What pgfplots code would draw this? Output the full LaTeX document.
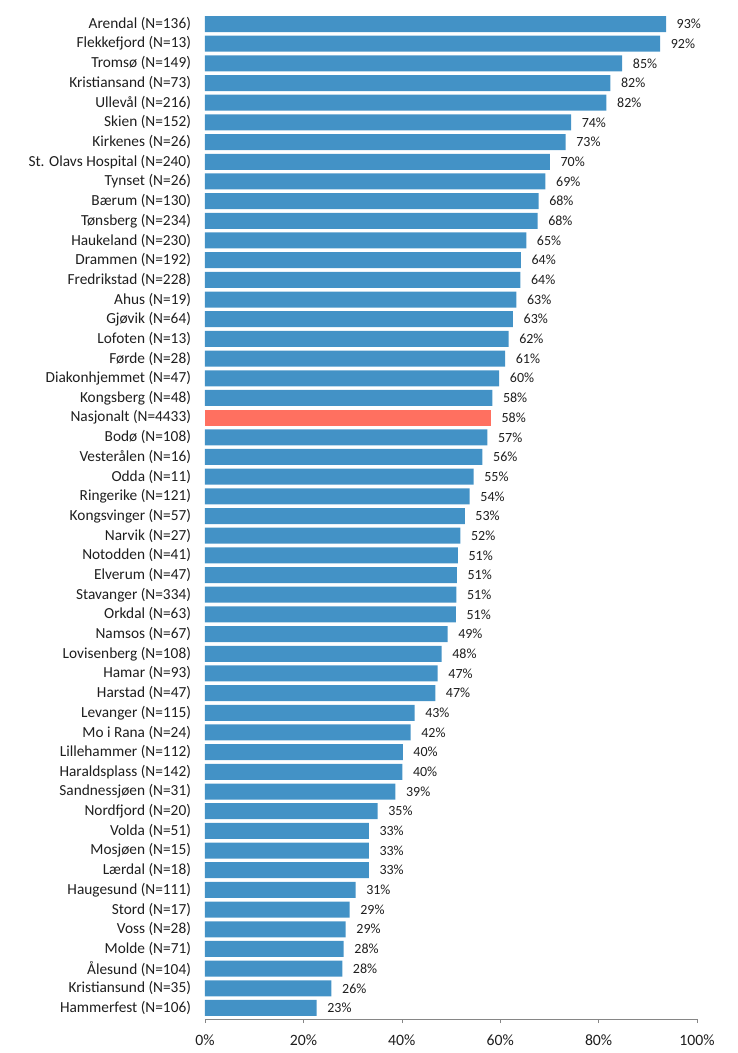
\documentclass[border=0pt]{standalone}
\usepackage{fontspec}
\setmainfont{Carlito}
\usepackage{pgfplots}
\usepackage{pgfplotstable}
\pgfplotsset{compat=1.18}
\definecolor{barblue}{RGB}{67,146,198}
\definecolor{barred}{RGB}{255,112,96}
\definecolor{axgray}{RGB}{134,134,134}
\definecolor{txt}{RGB}{30,30,30}
\pgfplotstableread[col sep=comma]{
idx,val,lab,name
0,93.7,93,Arendal (N=136)
1,92.5,92,Flekkefjord (N=13)
2,84.8,85,Tromsø (N=149)
3,82.4,82,Kristiansand (N=73)
4,81.6,82,Ullevål (N=216)
5,74.4,74,Skien (N=152)
6,73.3,73,Kirkenes (N=26)
7,70.1,70,St. Olavs Hospital (N=240)
8,69.2,69,Tynset (N=26)
9,67.8,68,Bærum (N=130)
10,67.6,68,Tønsberg (N=234)
11,65.3,65,Haukeland (N=230)
12,64.2,64,Drammen (N=192)
13,64.1,64,Fredrikstad (N=228)
14,63.3,63,Ahus (N=19)
15,62.6,63,Gjøvik (N=64)
16,61.7,62,Lofoten (N=13)
17,61.0,61,Førde (N=28)
18,59.8,60,Diakonhjemmet (N=47)
19,58.4,58,Kongsberg (N=48)
20,58.1,58,Nasjonalt (N=4433)
21,57.4,57,Bodø (N=108)
22,56.4,56,Vesterålen (N=16)
23,54.6,55,Odda (N=11)
24,53.8,54,Ringerike (N=121)
25,52.8,53,Kongsvinger (N=57)
26,51.9,52,Narvik (N=27)
27,51.4,51,Notodden (N=41)
28,51.2,51,Elverum (N=47)
29,51.1,51,Stavanger (N=334)
30,51.0,51,Orkdal (N=63)
31,49.3,49,Namsos (N=67)
32,48.1,48,Lovisenberg (N=108)
33,47.3,47,Hamar (N=93)
34,46.8,47,Harstad (N=47)
35,42.6,43,Levanger (N=115)
36,41.8,42,Mo i Rana (N=24)
37,40.2,40,Lillehammer (N=112)
38,40.1,40,Haraldsplass (N=142)
39,38.7,39,Sandnessjøen (N=31)
40,35.1,35,Nordfjord (N=20)
41,33.3,33,Volda (N=51)
42,33.3,33,Mosjøen (N=15)
43,33.3,33,Lærdal (N=18)
44,30.6,31,Haugesund (N=111)
45,29.4,29,Stord (N=17)
46,28.6,29,Voss (N=28)
47,28.2,28,Molde (N=71)
48,27.9,28,Ålesund (N=104)
49,25.7,26,Kristiansund (N=35)
50,22.7,23,Hammerfest (N=106)
}\data
\begin{document}
\begin{tikzpicture}
\begin{axis}[
  scale only axis,
  width=369pt, height=754.5pt,
  xbar, bar width=12pt, bar shift=0pt,
  y dir=reverse,
  xmin=0, xmax=100,
  ymin=-0.56, ymax=50.56,
  ytick={0,...,50},
  yticklabels from table={\data}{name},
  y axis line style={draw=none},
  ytick style={draw=none},
  axis x line*=bottom,
  x axis line style={draw=axgray},
  xtick={0,20,...,100},
  xtick align=outside,
  major tick length=3pt,
  xtick style={draw=axgray},
  xticklabel={\pgfmathprintnumber{\tick}\%},
  /pgf/number format/assume math mode=true,
  ticklabel style={font=\fontsize{11.5}{13}\selectfont, text=txt},
  yticklabel style={xshift=-4pt},
  xticklabel style={yshift=-5pt, font=\fontsize{11.8}{13}\selectfont},
  nodes near coords={\pgfmathprintnumber{\pgfplotspointmeta}\%},
  point meta=explicit,
  nodes near coords style={font=\fontsize{10.5}{12}\selectfont, text=txt, anchor=west, xshift=4.5pt},
  clip=false,
]
\addplot[fill=barblue, draw=none, skip coords between index={20}{21}]
  table[x=val, y=idx, meta=lab] {\data};
\addplot[fill=barred, draw=none, restrict y to domain=19.5:20.5]
  table[x=val, y=idx, meta=lab] {\data};
\end{axis}
\path ([shift={(-153.75pt,-25.5pt)}]current axis.south west) rectangle ([shift={(30.75pt,9.75pt)}]current axis.north east);
\end{tikzpicture}
\end{document}
